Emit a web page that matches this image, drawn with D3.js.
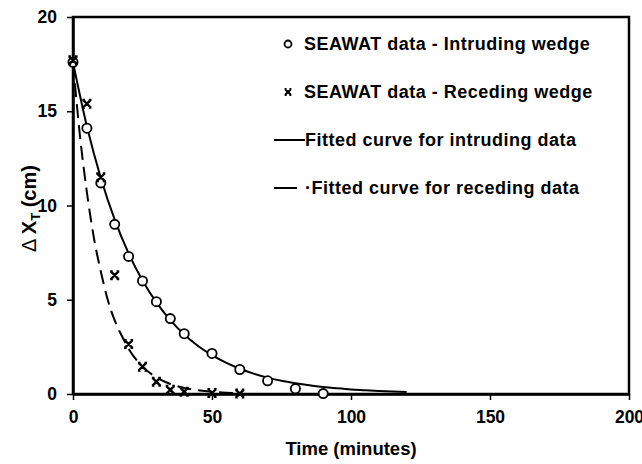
<!DOCTYPE html>
<html>
<head>
<meta charset="utf-8">
<script src="https://cdn.jsdelivr.net/npm/d3@7"></script>
<style>
  html, body { margin: 0; padding: 0; background: #fff; }
  svg { display: block; }
  text { font-family: "Liberation Sans", Arial, sans-serif; font-weight: bold; fill: #000; }
</style>
</head>
<body>
<svg id="chart" width="642" height="464"></svg>
<script>
// SEAWAT results: time (minutes) vs toe displacement ΔX_T (cm)
const intrudingTime = [0, 5, 10, 15, 20, 25, 30, 35, 40, 50, 60, 70, 80, 90];
const intrudingValue = [17.6, 14.1, 11.2, 9.0, 7.3, 6.0, 4.9, 4.0, 3.2, 2.15, 1.3, 0.7, 0.28, 0.02];

const recedingTime = [0, 5, 10, 15, 20, 25, 30, 35, 40, 50, 60];
const recedingValue = [17.7, 15.4, 11.5, 6.3, 2.65, 1.45, 0.65, 0.22, 0.12, 0.05, 0.02];

// Fitted exponential decay curves, sampled along time
const intrudingFitTime = [0, 5, 10, 15, 20, 25, 30, 35, 40, 45, 50, 55, 60, 65, 70, 75, 80, 85, 90, 95, 100, 105, 110, 115, 120];
const intrudingFitValue = [17.6, 14.2, 11.46, 9.25, 7.46, 6.02, 4.86, 3.92, 3.16, 2.55, 2.06, 1.66, 1.34, 1.08, 0.87, 0.70, 0.57, 0.46, 0.37, 0.30, 0.24, 0.20, 0.16, 0.13, 0.11];

const recedingFitTime = [0, 2.5, 5, 7.5, 10, 12.5, 15, 17.5, 20, 25, 30, 35, 40, 45, 50, 55, 60];
const recedingFitValue = [17.6, 13.7, 10.7, 8.3, 6.5, 5.0, 3.9, 3.1, 2.4, 1.45, 0.88, 0.53, 0.32, 0.2, 0.12, 0.07, 0.04];

const xTicks = [0, 50, 100, 150, 200];
const yTicks = [0, 5, 10, 15, 20];

const legendLabels = [
  "SEAWAT data - Intruding wedge",
  "SEAWAT data - Receding wedge",
  "Fitted curve for intruding data",
  "·Fitted curve for receding data"
];

const svg = d3.select("#chart");
const margin = { left: 73, right: 13, top: 17, bottom: 70 };
const W = 642, H = 464;

const x = d3.scaleLinear().domain([0, 200]).range([margin.left, W - margin.right]);
const y = d3.scaleLinear().domain([0, 20]).range([H - margin.bottom, margin.top]);

// plot frame
svg.append("rect")
  .attr("x", x(0)).attr("y", y(20))
  .attr("width", x(200) - x(0)).attr("height", y(0) - y(20))
  .attr("fill", "none").attr("stroke", "#000").attr("stroke-width", 2.5);

// axes
const xAxis = d3.axisBottom(x).tickValues(xTicks).tickSize(6).tickSizeOuter(0).tickPadding(11);
const yAxis = d3.axisLeft(y).tickValues(yTicks).tickSize(6).tickSizeOuter(0).tickPadding(10);

const gx = svg.append("g").attr("transform", `translate(0,${y(0)})`).call(xAxis);
const gy = svg.append("g").attr("transform", `translate(${x(0)},0)`).call(yAxis);
[gx, gy].forEach(g => {
  g.select(".domain").attr("stroke", "#000").attr("stroke-width", 2.5);
  g.selectAll(".tick line").attr("stroke", "#000").attr("stroke-width", 1.5);
  g.selectAll(".tick text")
    .style("font-family", "'Liberation Sans', Arial, sans-serif")
    .style("font-weight", "bold").style("font-size", "17.5px").attr("fill", "#000");
});

// axis titles
svg.append("text")
  .attr("x", x(100)).attr("y", 455)
  .attr("text-anchor", "middle").style("font-size", "18.5px")
  .text("Time (minutes)");

const yt = svg.append("text")
  .attr("transform", `translate(36,${(y(0) + y(20)) / 2 + 3}) rotate(-90)`)
  .attr("text-anchor", "middle").style("font-size", "20px");
yt.append("tspan").style("font-weight", "normal").text("Δ ");
yt.append("tspan").text("X");
yt.append("tspan").attr("dy", 4).style("font-size", "13px").text("T");
yt.append("tspan").attr("dy", -4).text(" (cm)");

// fitted curves
const line = d3.line().x(d => x(d[0])).y(d => y(d[1])).curve(d3.curveMonotoneX);

svg.append("path")
  .datum(intrudingFitTime.map((t, i) => [t, intrudingFitValue[i]]))
  .attr("d", line).attr("fill", "none").attr("stroke", "#000").attr("stroke-width", 2);

svg.append("path")
  .datum(recedingFitTime.map((t, i) => [t, recedingFitValue[i]]))
  .attr("d", line).attr("fill", "none").attr("stroke", "#000").attr("stroke-width", 2)
  .attr("stroke-dasharray", "14,7");

// markers
function crossPath(cx, cy, s) {
  const c = s * 0.5;
  return `M${cx - s},${cy - s}L${cx + s},${cy + s}M${cx + s},${cy - s}L${cx - s},${cy + s}` +
         `M${cx - s - c * 0.4},${cy - s}L${cx - s + c},${cy - s}M${cx + s - c},${cy - s}L${cx + s + c * 0.4},${cy - s}` +
         `M${cx - s - c * 0.4},${cy + s}L${cx - s + c},${cy + s}M${cx + s - c},${cy + s}L${cx + s + c * 0.4},${cy + s}`;
}

svg.append("g").selectAll("circle")
  .data(intrudingTime.map((t, i) => [t, intrudingValue[i]]))
  .join("circle")
  .attr("cx", d => x(d[0])).attr("cy", d => y(d[1])).attr("r", 4.6)
  .attr("fill", "#fff").attr("stroke", "#000").attr("stroke-width", 1.8);

svg.append("g").selectAll("path")
  .data(recedingTime.map((t, i) => [t, recedingValue[i]]))
  .join("path")
  .attr("d", d => crossPath(x(d[0]), y(d[1]), 3.8))
  .attr("fill", "none").attr("stroke", "#000").attr("stroke-width", 2.4);

// legend
const lg = svg.append("g");
const rowY = [44, 92, 140, 188];
const textX = [304, 304, 305, 305];
lg.append("circle").attr("cx", 288).attr("cy", rowY[0]).attr("r", 3.5)
  .attr("fill", "#fff").attr("stroke", "#000").attr("stroke-width", 1.8);
lg.append("path").attr("d", crossPath(288, rowY[1], 2.8)).attr("fill", "none")
  .attr("stroke", "#000").attr("stroke-width", 2.2);
lg.append("line").attr("x1", 274).attr("x2", 305).attr("y1", rowY[2]).attr("y2", rowY[2])
  .attr("stroke", "#000").attr("stroke-width", 2);
lg.append("line").attr("x1", 274).attr("x2", 297).attr("y1", rowY[3]).attr("y2", rowY[3])
  .attr("stroke", "#000").attr("stroke-width", 2);
lg.selectAll("text").data(legendLabels).join("text")
  .attr("x", (d, i) => textX[i]).attr("y", (d, i) => rowY[i])
  .attr("dy", "0.35em").style("font-size", "18px").style("letter-spacing", "0.5px")
  .text(d => d);
</script>
</body>
</html>
